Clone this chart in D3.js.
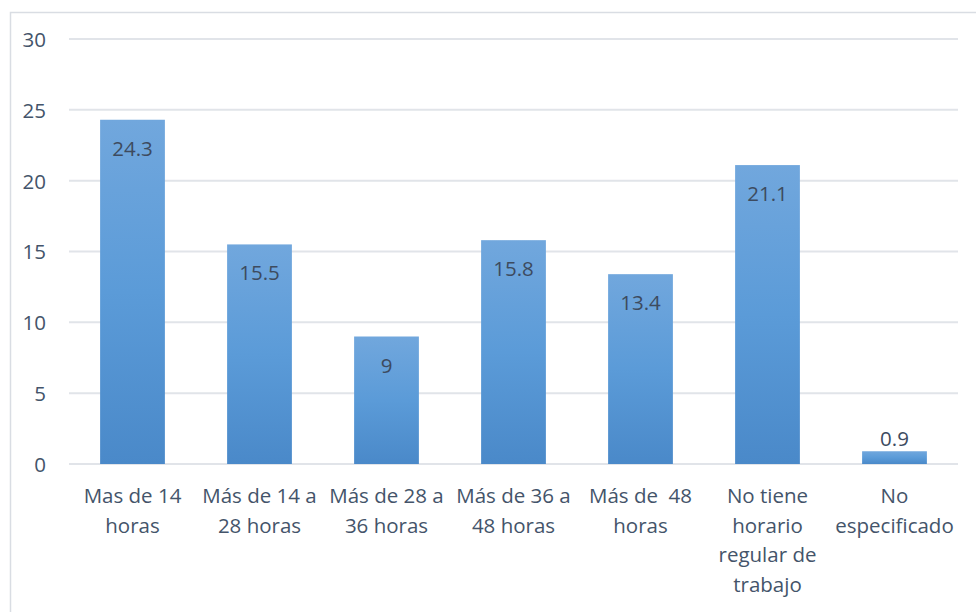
<!DOCTYPE html>
<html>
<head>
<meta charset="utf-8">
<script src="https://cdn.jsdelivr.net/npm/d3@7"></script>
<style>
  html, body { margin: 0; padding: 0; background: #fff; }
  svg { display: block; }
  text, tspan { white-space: pre; }
</style>
</head>
<body>
<svg id="chart" width="976" height="612"></svg>
<script>
const categories = ["Mas de 14 horas", "Más de 14 a 28 horas", "Más de 28 a 36 horas", "Más de 36 a 48 horas", "Más de  48 horas", "No tiene horario regular de trabajo", "No especificado"];
const categoryLines = [
  ["Mas de 14", "horas"],
  ["Más de 14 a", "28 horas"],
  ["Más de 28 a", "36 horas"],
  ["Más de 36 a", "48 horas"],
  ["Más de  48", "horas"],
  ["No tiene", "horario", "regular de", "trabajo"],
  ["No", "especificado"]
];
const values = [24.3, 15.5, 9, 15.8, 13.4, 21.1, 0.9];
const valueLabels = ["24.3", "15.5", "9", "15.8", "13.4", "21.1", "0.9"];
const yTicks = [0, 5, 10, 15, 20, 25, 30];

(function () {
const svg = d3.select("#chart");
const font = "'Open Sans', sans-serif";
const textColor = "#44546A";
const fs = "20.5px";

// outer border
svg.append("rect").attr("x", 10.5).attr("y", 12.5).attr("width", 1000).attr("height", 700)
  .attr("fill", "none").attr("stroke", "#d9dde3").attr("stroke-width", 1.5);

const pLeft = 69, pRight = 958, pTop = 39, pBottom = 464;
const x = d3.scaleBand().domain(categories).range([pLeft, pRight]).paddingInner(0.49).paddingOuter(0.245);
const y = d3.scaleLinear().domain([0, 30]).range([pBottom, pTop]);

const defs = svg.append("defs");
const grad = defs.append("linearGradient").attr("id", "barGrad").attr("x1", 0).attr("y1", 0).attr("x2", 0).attr("y2", 1);
grad.append("stop").attr("offset", "0%").attr("stop-color", "#71a7dd");
grad.append("stop").attr("offset", "50%").attr("stop-color", "#5b9bd8");
grad.append("stop").attr("offset", "100%").attr("stop-color", "#4a89c9");

// gridlines
svg.append("g").selectAll("line").data(yTicks).join("line")
  .attr("x1", pLeft).attr("x2", pRight)
  .attr("y1", d => y(d)).attr("y2", d => y(d))
  .attr("stroke", "#e1e4e9").attr("stroke-width", 2);

// y axis labels
const yAxis = d3.axisLeft(y).tickValues(yTicks).tickSize(0).tickPadding(0);
const gy = svg.append("g").attr("transform", "translate(46,0)").call(yAxis);
gy.select(".domain").remove();
gy.selectAll("text").attr("font-family", font).attr("font-size", fs).attr("fill", textColor).attr("dy", "0.36em");

// bars
svg.append("g").selectAll("rect").data(values).join("rect")
  .attr("x", (d, i) => x(categories[i]))
  .attr("width", x.bandwidth())
  .attr("y", d => y(d))
  .attr("height", d => pBottom - y(d))
  .attr("fill", "url(#barGrad)");

// value labels
svg.append("g").selectAll("text").data(values).join("text")
  .attr("x", (d, i) => x(categories[i]) + x.bandwidth() / 2)
  .attr("y", d => (pBottom - y(d) > 40 ? y(d) + 36 : y(d) - 5))
  .attr("text-anchor", "middle")
  .attr("font-family", font).attr("font-size", fs).attr("fill", "#3d4b5f")
  .text((d, i) => valueLabels[i]);

// category labels
const xl = svg.append("g");
categories.forEach((c, i) => {
  const cx = x(c) + x.bandwidth() / 2;
  const t = xl.append("text")
    .attr("x", cx).attr("y", 503)
    .attr("text-anchor", "middle")
    .attr("font-family", font).attr("font-size", fs).attr("fill", textColor);
  categoryLines[i].forEach((ln, j) => {
    t.append("tspan").attr("x", cx).attr("y", 503 + j * 29.7).text(ln);
  });
});
})();
</script>
</body>
</html>
